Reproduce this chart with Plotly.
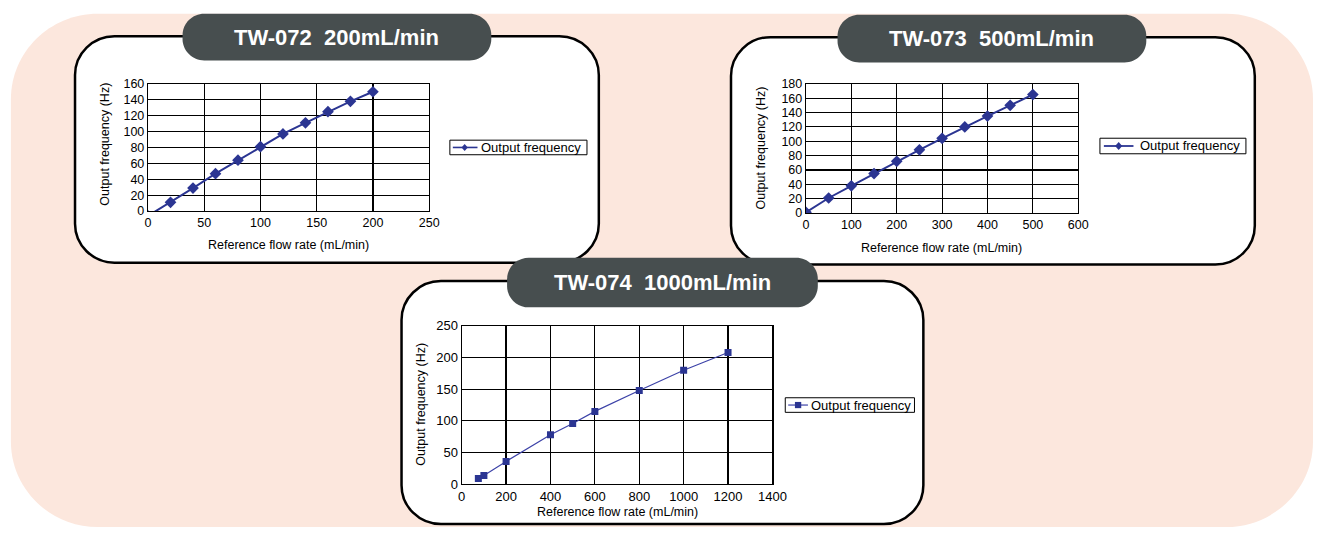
import plotly.graph_objects as go

W, H = 1327, 536

# ---------------- data ----------------
flow_072 = [0, 20, 40, 60, 80, 100, 120, 140, 160, 180, 200]
freq_072 = [-6, 11, 29, 47, 64, 81, 97, 111, 125, 138, 150]
flow_073 = [0, 50, 100, 150, 200, 250, 300, 350, 400, 450, 500]
freq_073 = [1, 21, 38, 55, 72, 88, 104, 120, 135, 150, 165]
flow_074 = [75, 100, 200, 400, 500, 600, 800, 1000, 1200]
freq_074 = [9, 14, 36, 78, 96, 115, 148, 180, 208]
titles = ["TW-072\u00a0 200mL/min", "TW-073\u00a0 500mL/min", "TW-074\u00a0 1000mL/min"]
series_name = "Output frequency"
x_title = "Reference flow rate (mL/min)"
y_title = "Output frequency (Hz)"

NAVY = "#2b3592"
NAVY3 = "#3d43a8"
PEACH = "#fce7dd"
DARK = "#474e4f"
FONT = "Liberation Sans, Arial, sans-serif"


def px(x):
    return x / W


def py(y):
    return 1 - y / H


def rrect(x0, y0, x1, y1, r):
    k = 0.5523 * r
    pts = [
        f"M {px(x0 + r)},{py(y0)}",
        f"L {px(x1 - r)},{py(y0)}",
        f"C {px(x1 - r + k)},{py(y0)} {px(x1)},{py(y0 + r - k)} {px(x1)},{py(y0 + r)}",
        f"L {px(x1)},{py(y1 - r)}",
        f"C {px(x1)},{py(y1 - r + k)} {px(x1 - r + k)},{py(y1)} {px(x1 - r)},{py(y1)}",
        f"L {px(x0 + r)},{py(y1)}",
        f"C {px(x0 + r - k)},{py(y1)} {px(x0)},{py(y1 - r + k)} {px(x0)},{py(y1 - r)}",
        f"L {px(x0)},{py(y0 + r)}",
        f"C {px(x0)},{py(y0 + r - k)} {px(x0 + r - k)},{py(y0)} {px(x0 + r)},{py(y0)}",
        "Z",
    ]
    return " ".join(pts)


fig = go.Figure()

fig.add_trace(go.Scatter(
    x=flow_072, y=freq_072, mode="lines+markers", name=series_name,
    line=dict(color=NAVY, width=2), marker=dict(symbol="diamond", size=9, color=NAVY),
    xaxis="x", yaxis="y"))
fig.add_trace(go.Scatter(
    x=flow_073, y=freq_073, mode="lines+markers", name=series_name,
    line=dict(color=NAVY, width=2), marker=dict(symbol="diamond", size=9, color=NAVY),
    xaxis="x2", yaxis="y2"))
fig.add_trace(go.Scatter(
    x=flow_074, y=freq_074, mode="lines+markers", name=series_name,
    line=dict(color=NAVY3, width=1.2), marker=dict(symbol="square", size=7, color=NAVY),
    xaxis="x3", yaxis="y3"))


def axis(dom, rng, dt, fs):
    return dict(domain=dom, range=rng, dtick=dt, tick0=0, showgrid=True, gridcolor="black",
                gridwidth=1.2, showline=True, linecolor="black", linewidth=1.2, mirror=True,
                zeroline=False, ticks="", tickfont=dict(size=fs, color="black", family=FONT),
                fixedrange=True)


# plot-area boxes in page pixels (left, top, right, bottom)
p1 = (146, 79, 431, 210)
p2 = (813, 79, 1089, 212)
p3 = (464, 328, 779, 491)


def xdom(p):
    return [px(p[0]), px(p[2])]


def ydom(p):
    return [py(p[3]), py(p[1])]


shapes = [
    dict(type="path", path=rrect(7, 7, 1327, 535, 88), xref="paper", yref="paper",
         fillcolor=PEACH, line=dict(width=0), layer="below"),
]
panels = [(72, 30, 603, 263), (737, 31, 1268, 265), (403, 282, 932, 532)]
for (x0, y0, x1, y1) in panels:
    shapes.append(dict(type="path", path=rrect(x0, y0, x1, y1, 40), xref="paper", yref="paper",
                       fillcolor="white", line=dict(color="black", width=2.5), layer="below"))
tboxes = [(181, 7, 494, 55), (845, 8, 1158, 57), (510, 258, 825, 309)]
for (x0, y0, x1, y1) in tboxes:
    shapes.append(dict(type="path", path=rrect(x0, y0, x1, y1, 22), xref="paper", yref="paper",
                       fillcolor=DARK, line=dict(width=0), layer="below"))

annotations = []
for (x0, y0, x1, y1), t in zip(tboxes, titles):
    annotations.append(dict(text=f"<b>{t}</b>", x=px((x0 + x1) / 2), y=py((y0 + y1) / 2),
                            xref="paper", yref="paper", showarrow=False,
                            font=dict(size=22, color="white", family=FONT),
                            xanchor="center", yanchor="middle"))

xt_pos = [(288, 245), (950, 248), (622, 520)]
yt_pos = [(102, 141), (767, 145), (422, 409)]
for (x, y) in xt_pos:
    annotations.append(dict(text=x_title, x=px(x), y=py(y), xref="paper", yref="paper",
                            showarrow=False, font=dict(size=12.5, color="black", family=FONT),
                            xanchor="center", yanchor="middle"))
for (x, y) in yt_pos:
    annotations.append(dict(text=y_title, x=px(x), y=py(y), xref="paper", yref="paper",
                            showarrow=False, textangle=-90,
                            font=dict(size=12.5, color="black", family=FONT),
                            xanchor="center", yanchor="middle"))

# legend boxes (drawn as layout decoration): box, sample line, sample marker, label
legends = [
    dict(box=(452, 137, 591, 152), line=(455, 480), mark=467, text_x=482, sym="diamond",
         color=NAVY, lw=1.6, ms=3.2),
    dict(box=(1111, 135, 1259, 151), line=(1115, 1145), mark=1130, text_x=1150, sym="diamond",
         color=NAVY, lw=1.8, ms=3.6),
    dict(box=(792, 402, 923, 417), line=(795, 815), mark=805, text_x=816, sym="square",
         color=NAVY3, lw=1.2, ms=3.2),
]
for lg in legends:
    x0, y0, x1, y1 = lg["box"]
    cy = (y0 + y1) / 2
    shapes.append(dict(type="rect", xref="paper", yref="paper", x0=px(x0), x1=px(x1),
                       y0=py(y1), y1=py(y0), fillcolor="white", line=dict(color="black", width=1)))
    shapes.append(dict(type="line", xref="paper", yref="paper", x0=px(lg["line"][0]),
                       x1=px(lg["line"][1]), y0=py(cy), y1=py(cy),
                       line=dict(color=lg["color"], width=lg["lw"])))
    m, s = lg["mark"], lg["ms"]
    if lg["sym"] == "diamond":
        path = (f"M {px(m)},{py(cy - s * 1.15)} L {px(m + s)},{py(cy)} "
                f"L {px(m)},{py(cy + s * 1.15)} L {px(m - s)},{py(cy)} Z")
    else:
        path = (f"M {px(m - s)},{py(cy - s)} L {px(m + s)},{py(cy - s)} "
                f"L {px(m + s)},{py(cy + s)} L {px(m - s)},{py(cy + s)} Z")
    shapes.append(dict(type="path", xref="paper", yref="paper", path=path,
                       fillcolor=NAVY, line=dict(width=0)))
    annotations.append(dict(text=series_name, x=px(lg["text_x"]), y=py(cy), xref="paper",
                            yref="paper", showarrow=False, xanchor="left", yanchor="middle",
                            font=dict(size=13, color="black", family=FONT)))

fig.update_layout(
    width=W, height=H, margin=dict(l=0, r=0, t=0, b=0),
    paper_bgcolor="white", plot_bgcolor="white", showlegend=False,
    font=dict(family=FONT, color="black"),
    xaxis=axis(xdom(p1), [0, 250], 50, 12.5), yaxis=axis(ydom(p1), [0, 160], 20, 12.5),
    xaxis2=axis(xdom(p2), [0, 600], 100, 12.5), yaxis2=axis(ydom(p2), [0, 180], 20, 12.5),
    xaxis3=axis(xdom(p3), [0, 1400], 200, 13), yaxis3=axis(ydom(p3), [0, 250], 50, 13),
    shapes=shapes, annotations=annotations,
)
fig.update_layout(yaxis2=dict(anchor="x2"), xaxis2=dict(anchor="y2"),
                  yaxis3=dict(anchor="x3"), xaxis3=dict(anchor="y3"))

fig.write_html(
    "out.html",
    config={"displayModeBar": False, "staticPlot": True},
    post_script="document.body.style.margin='0';document.body.style.padding='0';"
                "document.documentElement.style.overflow='hidden';",
)
